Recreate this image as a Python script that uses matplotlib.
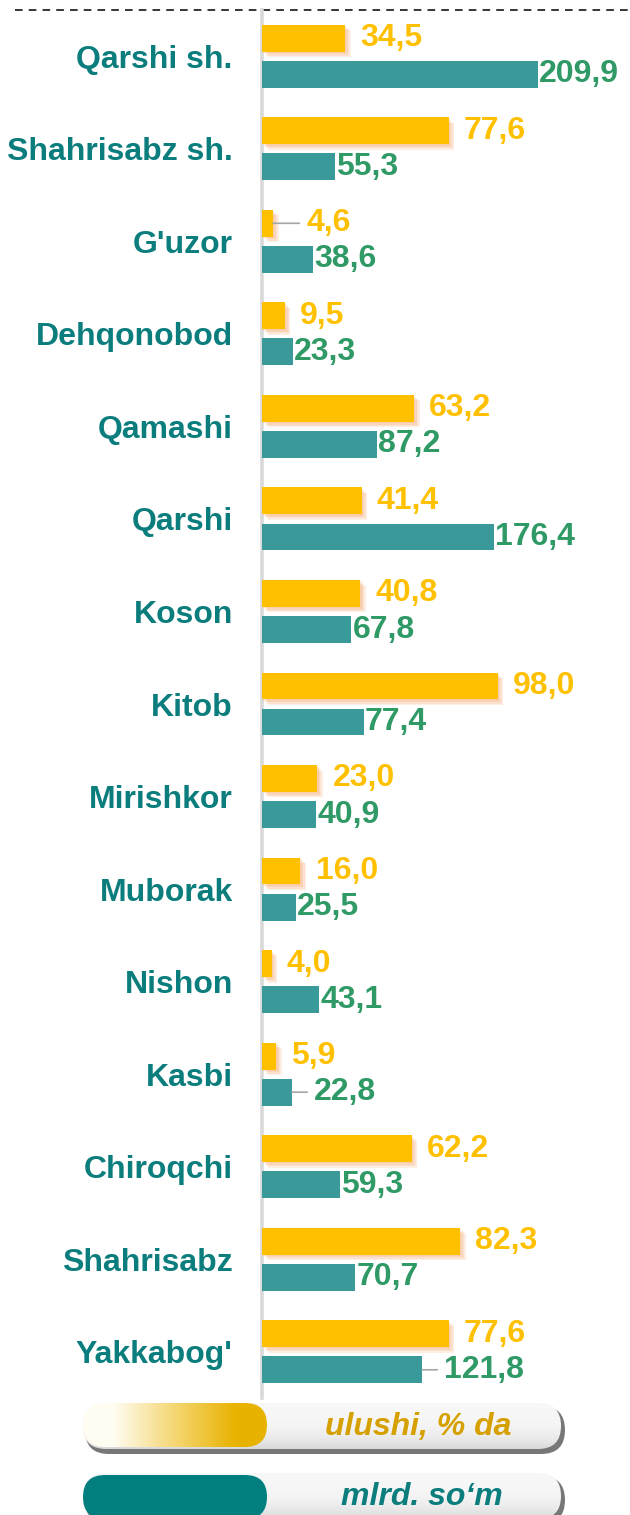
import numpy as np
import matplotlib
matplotlib.use("Agg")
import matplotlib.pyplot as plt
from matplotlib.patches import FancyBboxPatch
import matplotlib.patheffects as pe

plt.rcParams['font.family'] = ['Liberation Sans', 'DejaVu Sans']

districts = ["Qarshi sh.", "Shahrisabz sh.", "G'uzor", "Dehqonobod", "Qamashi",
             "Qarshi", "Koson", "Kitob", "Mirishkor", "Muborak", "Nishon",
             "Kasbi", "Chiroqchi", "Shahrisabz", "Yakkabog'"]
share_pct = [34.5, 77.6, 4.6, 9.5, 63.2, 41.4, 40.8, 98.0, 23.0, 16.0, 4.0,
             5.9, 62.2, 82.3, 77.6]
volume_bn = [209.9, 55.3, 38.6, 23.3, 87.2, 176.4, 67.8, 77.4, 40.9, 25.5,
             43.1, 22.8, 59.3, 70.7, 121.8]
legend_labels = ["ulushi, % da", "mlrd. so\u2018m"]

YELLOW = "#ffc000"
TEAL_BAR = "#3a9a99"
TEAL_TXT = "#0b7d7d"
GREEN_TXT = "#2f9a66"

W, H = 630, 1515
fig = plt.figure(figsize=(W / 100, H / 100), dpi=100)

ax = fig.add_axes([262 / W, (H - 1398) / H, 368 / W, 1388 / H])
ax2 = ax.twiny()
y = np.arange(len(districts))
bh = 0.29
off = 0.195

# soft orange glow under the yellow bars
glow = [pe.SimplePatchShadow(offset=(d, -d), shadow_rgbFace="#f5a66a", alpha=0.18)
        for d in (4, 3, 2, 1)] + [pe.Normal()]
ybars = ax.barh(y - off, share_pct, height=bh, color=YELLOW, zorder=3)
for b in ybars:
    b.set_path_effects(glow)
ax2.barh(y + off, volume_bn, height=bh, color=TEAL_BAR, zorder=3)

ax.set_xlim(0, 153)
ax2.set_xlim(0, 280)
ax.set_ylim(len(districts) - 0.5, -0.5)

# value labels; a few small ones get a grey leader line
leader_y = {2}
leader_t = {11, 14}
lbl = dict(textcoords="offset points", va="center", ha="left",
           fontsize=23, fontweight="bold")
for i, v in enumerate(share_pct):
    s = f"{v:.1f}".replace(".", ",")
    if i in leader_y:
        ax.annotate(s, xy=(v, i - off), xytext=(24, 0), color=YELLOW,
                    arrowprops=dict(arrowstyle="-", color="#a6a6a6", lw=1.2,
                                    shrinkA=3, shrinkB=0), **lbl)
    else:
        ax.annotate(s, xy=(v, i - off), xytext=(11, 0), color=YELLOW, **lbl)
for i, v in enumerate(volume_bn):
    s = f"{v:.1f}".replace(".", ",")
    if i in leader_t:
        ax2.annotate(s, xy=(v, i + off), xytext=(16, 0), color=GREEN_TXT,
                     arrowprops=dict(arrowstyle="-", color="#a6a6a6", lw=1.2,
                                     shrinkA=3, shrinkB=0), **lbl)
    else:
        ax2.annotate(s, xy=(v, i + off), xytext=(1, 0), color=GREEN_TXT, **lbl)

ax.set_yticks(y)
ax.set_yticklabels(districts, fontsize=23, fontweight="bold", color=TEAL_TXT)
ax.tick_params(axis="y", length=0, pad=21)
ax.tick_params(axis="x", bottom=False, labelbottom=False)
ax2.tick_params(axis="x", top=False, labeltop=False)
for a in (ax, ax2):
    for s in a.spines.values():
        s.set_visible(False)
    a.set_facecolor("none")
ax.spines["left"].set_visible(True)
ax.spines["left"].set_color("#d9d9d9")
ax.spines["left"].set_linewidth(2.6)

# overlay in pixel coordinates: top dashed rule and the pill legend
ov = fig.add_axes([0, 0, 1, 1], zorder=-1)
ov.set_xlim(0, W)
ov.set_ylim(H, 0)
ov.axis("off")
ov.plot([15, 630], [10, 10], color="black", lw=1.1, ls=(0, (5, 4)))


def pill(x0, y0, w, h, color=None, cmap=None, z=1):
    p = FancyBboxPatch((x0, y0), w, h, boxstyle=f"round,pad=0,rounding_size={h / 2}",
                       linewidth=0, facecolor=color if color else "none", zorder=z)
    ov.add_patch(p)
    if cmap is not None:
        im = ov.imshow(cmap, extent=(x0, x0 + w, y0 + h, y0), aspect="auto",
                       zorder=z, interpolation="bilinear")
        im.set_clip_path(p)
    return p


grey = np.linspace(0, 1, 64)[:, None]
grey_grad = np.dstack([0.97 - 0.12 * grey ** 3] * 3) * np.ones((1, 2, 1))
yel_grad = np.array([[[1.0, 0.99, 0.95], [0.96, 0.84, 0.45], [0.91, 0.70, 0.0]]])

# share pill
pill(85, 1406, 480, 48, color="#777777", z=1)
pill(83, 1403, 478, 46, cmap=grey_grad, z=2)
pill(83, 1403, 184, 44, cmap=yel_grad, z=3)
ov.text(418, 1427, legend_labels[0], ha="center", va="center", fontsize=23,
        fontweight="bold", style="italic", color="#d6a000", zorder=4)

# volume pill
pill(85, 1476, 480, 48, color="#777777", z=1)
pill(83, 1473, 478, 46, cmap=grey_grad, z=2)
pill(83, 1475, 184, 44, color="#007f7e", z=3)
ov.text(422, 1497, legend_labels[1], ha="center", va="center", fontsize=23,
        fontweight="bold", style="italic", color="#0b7d7d", zorder=4)

fig.savefig("out.png", dpi=100)
